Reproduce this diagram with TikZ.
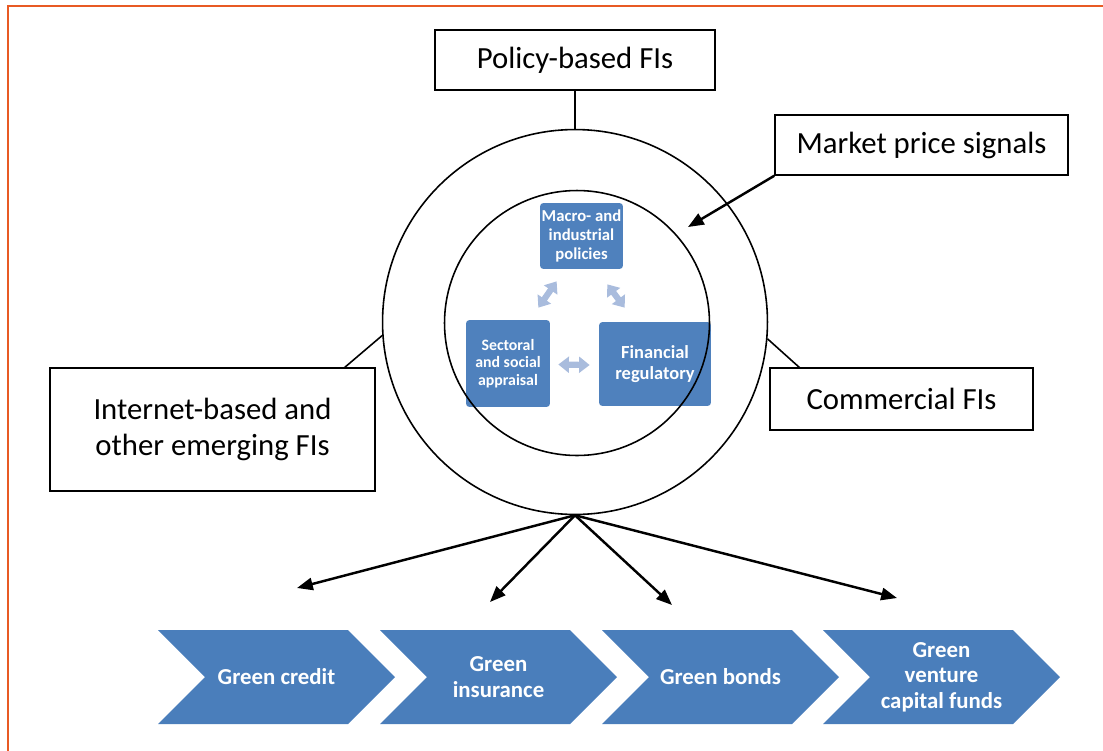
\documentclass[tikz,border=0pt]{standalone}
\usepackage{fontspec}
\setmainfont{Carlito}
\usetikzlibrary{positioning,arrows.meta}
\definecolor{chevblue}{HTML}{4A7EBB}
\definecolor{boxblue}{HTML}{4F81BD}
\definecolor{paleblue}{HTML}{A9BCDD}
\definecolor{frameorange}{HTML}{E85A24}

\begin{document}
\begin{tikzpicture}[x=0.02cm,y=-0.02cm,>={Triangle[length=9pt,width=7pt]},
  fibox/.style={draw,line width=0.9pt,font=\fontsize{17.5}{20.5}\selectfont,align=center,inner sep=0pt},
  policy/.style={fill=boxblue,rounded corners=2pt,text=white,font=\bfseries\fontsize{9.5}{10.8}\selectfont,align=center,inner sep=0pt},
  ring/.style={draw,circle,line width=0.9pt,inner sep=0pt},
  twoway/.style={{Triangle[length=6pt,width=9pt]}-{Triangle[length=6pt,width=9pt]},line width=3.5pt,paleblue},
  chevtext/.style={text=white,font=\bfseries\fontsize{13}{14.5}\selectfont,align=center}]
  \useasboundingbox (0,0) rectangle (1103,751);
  % page frame
  \draw[frameorange,line width=1.2pt] (1103,6) -- (8,6) -- (8,751);

  % green finance products
  \foreach \l/\lbl [count=\i] in {158/Green credit,380/{Green\\insurance},602/Green bonds,823/{Green\\venture\\capital funds}}{
    \fill[chevblue] (\l,630) -- (\l+190,630) -- (\l+237,677) -- (\l+190,724) -- (\l,724) -- (\l+47,677) -- cycle;
    \node[chevtext] (gf\i) at (\l+118.5,677) {\lbl};
  }

  % policy triangle
  \node[policy,minimum width=1.66cm,minimum height=1.32cm] (macro) at (581.5,236) {Macro- and\\industrial\\policies};
  \node[policy,minimum width=1.68cm,minimum height=1.74cm,font=\bfseries\fontsize{9}{10}\selectfont] (sectoral) at (508,363.5) {Sectoral\\and social\\appraisal};
  \node[policy,minimum width=2.24cm,minimum height=1.68cm,font=\bfseries\fontsize{10.5}{11.5}\selectfont] (financial) at (655,364) {Financial\\regulatory};
  \draw[twoway] ([shift={(17,12)}]macro.south west) -- ([shift={(-12,-12)}]sectoral.north east);
  \draw[twoway] ([shift={(-16,15)}]macro.south east) -- ([shift={(26,-14)}]financial.north west);
  \draw[twoway] ([shift={(8,1)}]sectoral.east) -- ([shift={(-9,1)}]financial.west);

  \node[ring,minimum size=7.7cm] (outer) at (575,322) {};
  \node[ring,minimum size=5.3cm] (inner) at (577,323) {};

  % financial institutions
  \node[fibox,minimum width=5.6cm,minimum height=1.2cm] (pbfi) at (575,60) {Policy-based FIs};
  \node[fibox,minimum width=5.86cm,minimum height=1.2cm] (mps) at (921.5,145) {Market price signals};
  \node[fibox,minimum width=6.5cm,minimum height=2.46cm] (ibfi) at (212.5,429.5) {Internet-based and\\other emerging FIs};
  \node[fibox,minimum width=5.26cm,minimum height=1.24cm] (cfi) at (901.5,399) {Commercial FIs};

  \coordinate (mkttip) at (688,227);
  \coordinate (ibtop) at (344,368);
  \coordinate (cftop) at (800,368);
  \coordinate (t1) at (297,588);
  \coordinate (t2) at (490,602);
  \coordinate (t3) at (672,605);
  \coordinate (t4) at (897,598);

  \draw[line width=0.9pt] (pbfi.south) -- (outer.north);
  \draw[line width=0.9pt] (ibtop) -- (outer.184);
  \draw[line width=0.9pt] (outer.-5) -- (cftop);
  \draw[->,line width=1.4pt] (mps.south west) -- (mkttip);
  \foreach \t in {t1,t2,t3,t4}
    \draw[->,line width=1.4pt] (outer.south) -- (\t);
\end{tikzpicture}
\end{document}
